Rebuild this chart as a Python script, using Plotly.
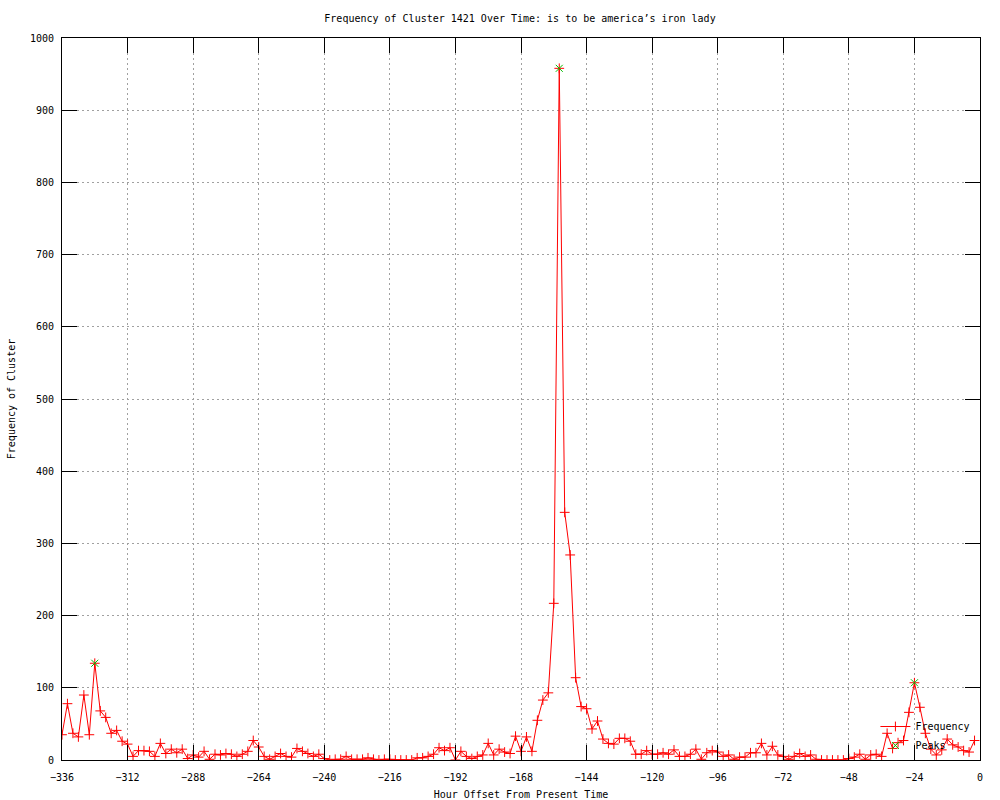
import plotly.graph_objects as go

hours = list(range(-336, 0, 2))
frequency = [
    35, 78, 37, 32, 90, 35, 134, 68, 59, 37,
    41, 26, 22, 5, 13, 13, 12, 5, 23, 9,
    15, 10, 15, 2, 7, 4, 12, 1, 8, 7,
    9, 8, 5, 8, 12, 27, 18, 5, 1, 5,
    9, 5, 4, 16, 12, 9, 5, 8, 2, 0,
    1, 1, 5, 1, 1, 1, 3, 1, 0, 1,
    1, 0, 0, 0, 0, 3, 3, 5, 8, 17,
    13, 17, 0, 12, 5, 2, 5, 7, 23, 7,
    15, 11, 9, 33, 12, 32, 12, 55, 83, 93,
    217, 958, 343, 284, 114, 74, 71, 43, 54, 29,
    23, 22, 30, 30, 26, 8, 8, 13, 8, 8,
    10, 8, 14, 5, 5, 8, 15, 1, 10, 13,
    11, 5, 7, 1, 4, 4, 10, 10, 23, 7,
    19, 7, 5, 1, 5, 9, 5, 7, 1, 0,
    0, 0, 0, 0, 2, 4, 8, 1, 7, 8,
    5, 37, 16, 24, 27, 66, 107, 73, 37, 15,
    7, 14, 29, 21, 18, 13, 11, 27,
]
peak_hours = [-324, -154, -24]
peak_values = [134, 958, 107]

x_ticks = list(range(-336, 1, 24))
y_ticks = list(range(0, 1001, 100))

FONT = "DejaVu Sans Mono"

fig = go.Figure()
fig.add_trace(go.Scatter(
    x=hours, y=frequency, mode="lines+markers", name="Frequency",
    line=dict(color="#ff0000", width=1),
    marker=dict(symbol="cross-thin", size=7, line=dict(color="#ff0000", width=1)),
))
fig.add_trace(go.Scatter(
    x=peak_hours, y=peak_values, mode="markers", name="Peaks",
    marker=dict(symbol="x-thin", size=7, line=dict(color="#00c000", width=1)),
))

axis_common = dict(
    showline=True, linecolor="black", linewidth=1, mirror="ticks",
    ticks="inside", ticklen=15, tickcolor="black", tickwidth=1,
    showgrid=True, gridcolor="#a0a0a0", gridwidth=1, griddash="2px,3px",
    zeroline=False, automargin=False,
    tickfont=dict(family=FONT, size=10, color="black"),
)

fig.update_layout(
    width=1000, height=800,
    paper_bgcolor="white", plot_bgcolor="white",
    margin=dict(l=62, r=20, t=38, b=40),
    font=dict(family=FONT, size=10, color="black"),
    title=dict(text="Frequency of Cluster 1421 Over Time: is to be america’s iron lady",
               x=0.52, xanchor="center", y=0.9775, yanchor="middle",
               font=dict(family=FONT, size=10, color="black")),
    xaxis=dict(range=[-336, 0], tickvals=x_ticks, ticklabelstandoff=8,
               title=dict(text="Hour Offset From Present Time", standoff=8,
                          font=dict(family=FONT, size=10)),
               **axis_common),
    yaxis=dict(range=[0, 1000], tickvals=y_ticks, ticklabelstandoff=5,
               title=dict(text="Frequency of Cluster", standoff=12,
                          font=dict(family=FONT, size=10)),
               **axis_common),
    legend=dict(x=0.995, y=0.0, xanchor="right", yanchor="bottom",
                bgcolor="rgba(0,0,0,0)", font=dict(family=FONT, size=10),
                tracegroupgap=0, itemwidth=30),
    showlegend=True,
)

fig.write_html("out.html", config={"displayModeBar": False},
               post_script="document.body.style.margin='0';")
